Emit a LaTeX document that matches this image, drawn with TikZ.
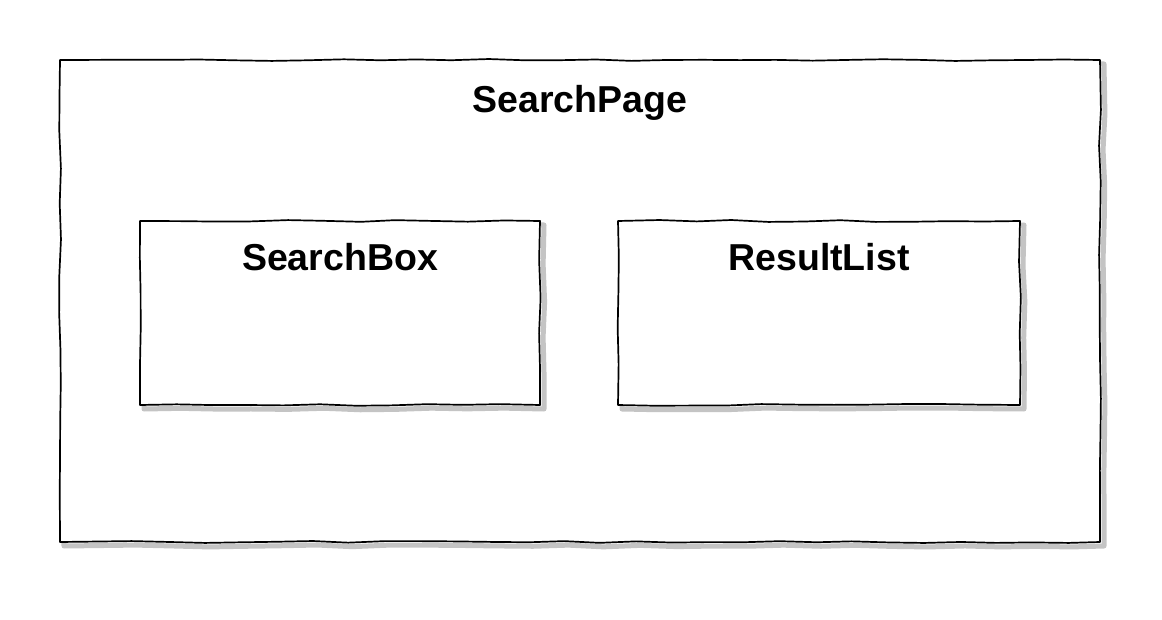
\documentclass[tikz,border=0pt]{standalone}
\usepackage{fontspec}
\setmainfont{Liberation Sans}
\usetikzlibrary{decorations.pathmorphing}
\definecolor{shadowgray}{HTML}{C4C4C4}
\begin{document}
\begin{tikzpicture}[x=1pt, y=-1pt, line join=round, line cap=round,
  sketch/.style={draw=black, line width=1.7pt, fill=white, inner sep=0pt,
    decorate, decoration={random steps, segment length=36pt, amplitude=1pt},
    preaction={draw=shadowgray, line width=5pt, transform canvas={shift={(4pt,-4pt)}}}},
  lbl/.style={font=\fontsize{37.5}{40}\selectfont\bfseries, anchor=north}]
\useasboundingbox (0,0) rectangle (1162,620);
\pgfmathsetseed{12}
\node[sketch, minimum width=1040pt, minimum height=482pt, label={[lbl, yshift=-23pt]north:SearchPage}] (page) at (580,301) {};
\node[sketch, minimum width=400pt, minimum height=184pt, label={[lbl, yshift=-20pt]north:SearchBox}] (box) at (340,313) {};
\node[sketch, minimum width=402pt, minimum height=184pt, label={[lbl, yshift=-20pt]north:ResultList}] (list) at (819,313) {};
\end{tikzpicture}
\end{document}
